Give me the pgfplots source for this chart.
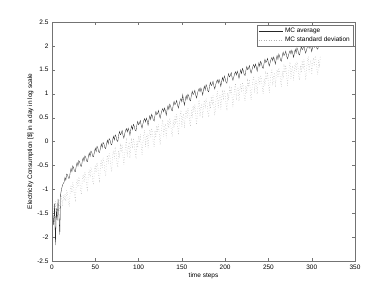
\documentclass[border=0pt]{standalone}
\usepackage{pgfplots}
\pgfplotsset{compat=1.18}
\usepackage{pgfplotstable}
\usepackage{fontspec}
\setmainfont{Liberation Sans}
\pgfplotstableread{
t a s
1 -1.55 -1.30
2 -1.75 -1.50
3 -1.30 -1.75
4 -2.17 -1.25
5 -1.40 -1.50
6 -1.65 -1.30
7 -1.20 -1.60
8 -1.55 -1.20
9 -1.95 -1.45
10 -1.10 -1.25
11 -1.00 -1.15
12 -0.92 -1.35
13 -0.88 -1.12
14 -0.85 -1.23
15 -0.75 -1.10
16 -0.81 -1.25
17 -0.68 -1.02
18 -0.70 -1.09
19 -0.77 -1.29
20 -0.77 -1.36
21 -0.65 -1.03
22 -0.56 -0.91
23 -0.63 -1.07
24 -0.51 -0.85
25 -0.55 -0.94
26 -0.62 -1.14
27 -0.63 -1.22
28 -0.52 -0.90
29 -0.44 -0.79
30 -0.51 -0.95
31 -0.40 -0.74
32 -0.43 -0.82
33 -0.51 -1.03
34 -0.52 -1.11
35 -0.41 -0.80
36 -0.34 -0.69
37 -0.41 -0.85
38 -0.30 -0.64
39 -0.33 -0.72
40 -0.41 -0.93
41 -0.42 -1.01
42 -0.32 -0.70
43 -0.24 -0.59
44 -0.31 -0.75
45 -0.20 -0.54
46 -0.23 -0.62
47 -0.31 -0.83
48 -0.32 -0.91
49 -0.22 -0.60
50 -0.14 -0.49
51 -0.21 -0.65
52 -0.10 -0.44
53 -0.14 -0.53
54 -0.22 -0.74
55 -0.23 -0.82
56 -0.13 -0.49
57 -0.05 -0.38
58 -0.13 -0.55
59 -0.02 -0.34
60 -0.05 -0.42
61 -0.13 -0.63
62 -0.15 -0.72
63 -0.05 -0.40
64 0.03 -0.29
65 -0.05 -0.46
66 0.06 -0.25
67 0.03 -0.33
68 -0.05 -0.54
69 -0.07 -0.63
70 0.03 -0.30
71 0.11 -0.19
72 0.03 -0.36
73 0.14 -0.15
74 0.10 -0.24
75 0.02 -0.45
76 0.00 -0.54
77 0.13 -0.19
78 0.21 -0.34
79 0.14 -0.09
80 0.17 -0.22
81 0.23 -0.06
82 0.13 -0.29
83 0.07 -0.49
84 0.16 -0.25
85 0.23 -0.07
86 0.27 0.03
87 0.20 -0.32
88 0.28 -0.11
89 0.22 -0.05
90 0.13 -0.35
91 0.25 -0.08
92 0.33 0.03
93 0.25 -0.14
94 0.36 0.07
95 0.32 -0.02
96 0.24 -0.23
97 0.22 -0.32
98 0.34 0.02
99 0.42 -0.13
100 0.35 0.12
101 0.38 -0.01
102 0.44 0.15
103 0.34 -0.08
104 0.28 -0.28
105 0.37 -0.04
106 0.44 0.14
107 0.48 0.24
108 0.41 -0.11
109 0.49 0.10
110 0.43 0.16
111 0.34 -0.14
112 0.46 0.13
113 0.54 0.24
114 0.46 0.07
115 0.57 0.28
116 0.53 0.19
117 0.45 -0.02
118 0.43 -0.11
119 0.55 0.23
120 0.63 0.08
121 0.56 0.33
122 0.59 0.20
123 0.65 0.36
124 0.55 0.13
125 0.49 -0.07
126 0.58 0.17
127 0.65 0.35
128 0.69 0.45
129 0.62 0.10
130 0.70 0.31
131 0.64 0.37
132 0.55 0.07
133 0.67 0.34
134 0.75 0.45
135 0.67 0.28
136 0.78 0.49
137 0.74 0.40
138 0.66 0.19
139 0.64 0.10
140 0.76 0.44
141 0.84 0.29
142 0.77 0.54
143 0.80 0.41
144 0.86 0.57
145 0.76 0.34
146 0.70 0.14
147 0.79 0.38
148 0.86 0.56
149 0.90 0.66
150 0.83 0.31
151 0.98 0.52
152 0.85 0.58
153 0.76 0.28
154 0.88 0.55
155 0.96 0.66
156 0.88 0.49
157 0.99 0.70
158 0.95 0.61
159 0.87 0.40
160 0.85 0.31
161 0.97 0.65
162 1.05 0.50
163 0.98 0.75
164 1.01 0.62
165 1.07 0.78
166 0.97 0.55
167 0.91 0.35
168 1.00 0.59
169 1.07 0.77
170 1.11 0.87
171 1.04 0.52
172 1.12 0.73
173 1.06 0.79
174 0.97 0.49
175 1.08 0.75
176 1.16 0.86
177 1.08 0.69
178 1.19 0.90
179 1.14 0.81
180 1.06 0.60
181 1.04 0.51
182 1.16 0.84
183 1.24 0.69
184 1.17 0.94
185 1.20 0.81
186 1.26 0.97
187 1.16 0.74
188 1.10 0.54
189 1.18 0.77
190 1.25 0.95
191 1.29 1.05
192 1.22 0.70
193 1.30 0.91
194 1.24 0.97
195 1.15 0.67
196 1.26 0.93
197 1.34 1.04
198 1.26 0.87
199 1.37 1.08
200 1.32 0.99
201 1.24 0.78
202 1.22 0.69
203 1.34 1.02
204 1.42 0.87
205 1.35 1.12
206 1.38 0.99
207 1.44 1.15
208 1.34 0.92
209 1.28 0.72
210 1.35 0.94
211 1.42 1.12
212 1.46 1.22
213 1.39 0.87
214 1.47 1.08
215 1.41 1.14
216 1.32 0.84
217 1.42 1.09
218 1.50 1.20
219 1.42 1.03
220 1.53 1.24
221 1.48 1.15
222 1.40 0.94
223 1.38 0.85
224 1.49 1.17
225 1.57 1.02
226 1.50 1.27
227 1.53 1.14
228 1.59 1.30
229 1.49 1.07
230 1.43 0.87
231 1.50 1.09
232 1.57 1.27
233 1.61 1.37
234 1.54 1.02
235 1.62 1.23
236 1.56 1.29
237 1.47 0.99
238 1.57 1.24
239 1.65 1.35
240 1.57 1.18
241 1.68 1.39
242 1.63 1.30
243 1.55 1.09
244 1.53 1.00
245 1.64 1.32
246 1.72 1.17
247 1.65 1.42
248 1.68 1.29
249 1.74 1.45
250 1.64 1.22
251 1.58 1.02
252 1.65 1.24
253 1.72 1.42
254 1.76 1.52
255 1.69 1.17
256 1.77 1.38
257 1.71 1.44
258 1.62 1.14
259 1.72 1.39
260 1.80 1.50
261 1.72 1.33
262 1.83 1.54
263 1.78 1.45
264 1.70 1.24
265 1.68 1.15
266 1.79 1.47
267 1.87 1.32
268 1.80 1.57
269 1.83 1.44
270 1.89 1.60
271 1.79 1.37
272 1.73 1.17
273 1.79 1.38
274 1.86 1.56
275 1.90 1.66
276 1.83 1.31
277 1.91 1.52
278 1.85 1.58
279 1.76 1.28
280 1.85 1.52
281 1.93 1.63
282 1.85 1.46
283 1.96 1.67
284 1.91 1.58
285 1.83 1.37
286 1.81 1.28
287 1.91 1.59
288 1.99 1.44
289 1.92 1.69
290 1.95 1.56
291 2.01 1.72
292 1.91 1.49
293 1.85 1.29
294 1.91 1.50
295 1.98 1.68
296 2.02 1.78
297 1.95 1.43
298 2.03 1.64
299 1.97 1.70
300 1.88 1.40
301 1.97 1.64
302 2.05 1.75
303 1.97 1.58
304 2.08 1.79
305 2.03 1.70
306 1.95 1.49
307 1.93 1.40
308 2.02 1.70
309 2.08 1.55
310 1.99 1.80
}\mc
\begin{document}
\begin{tikzpicture}
\path[use as bounding box] (-52bp,-33bp) rectangle (340bp,261bp);
\begin{axis}[
  at={(0,0)}, anchor=south west,
  width=303bp, height=239bp, scale only axis,
  xmin=0, xmax=350, ymin=-2.5, ymax=2.5,
  xtick={0,50,...,350}, ytick={-2.5,-2,...,2.5},
  tick align=inside, major tick length=3bp,
  axis line style={black!55}, tick style={black!55},
  font=\fontsize{6.5}{7.5}\selectfont,
  /pgf/number format/assume math mode=true,
  yticklabel style={/pgf/number format/fixed, /pgf/number format/precision=1},
  xlabel={time steps}, ylabel={Electricity Consumption [\$] in a day in log scale},
  xlabel style={yshift=3bp}, ylabel style={yshift=-3bp},
  legend style={at={(1,1)}, anchor=north east, xshift=-2bp, yshift=-3bp,
    draw=black!55, font=\fontsize{6.5}{7.5}\selectfont, inner sep=1pt, row sep=-1pt},
  legend cell align=left,
  legend image code/.code={\draw[#1] (0bp,0bp) -- (24bp,0bp);},
]
\addplot[black!85, line width=0.3pt] table[x=t,y=a]{\mc};
\addlegendentry{MC average}
\addplot[black!30, dotted, line width=0.5pt] table[x=t,y=s]{\mc};
\addlegendentry{MC standard deviation}
\end{axis}
\end{tikzpicture}
\end{document}
